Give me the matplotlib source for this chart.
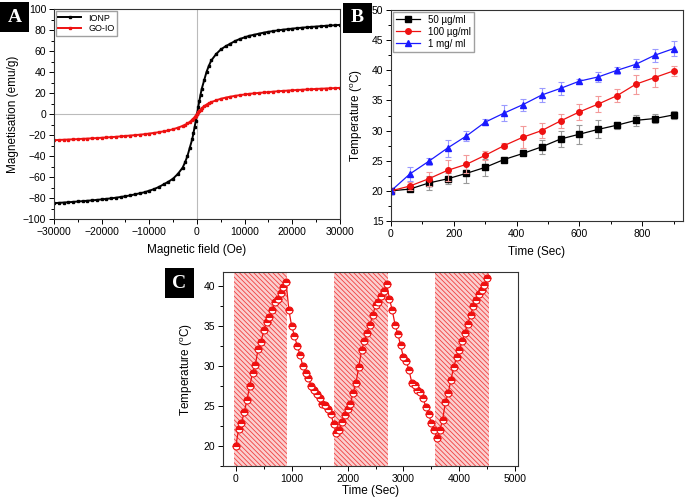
import numpy as np
import matplotlib

matplotlib.use("Agg")
import matplotlib.pyplot as plt
from matplotlib.patches import Rectangle
from matplotlib.ticker import MultipleLocator

plt.rcParams["font.family"] = ["Liberation Sans", "DejaVu Sans"]
plt.rcParams["mathtext.default"] = "regular"

# ---- panel A: magnetisation curves ----
field = [-30000, -29000, -28000, -27000, -26000, -25000, -24000, -23000, -22000, -21000,
         -20000, -19000, -18000, -17000, -16000, -15000, -14000, -13000, -12000, -11000,
         -10000, -9000, -8000, -7000, -6000, -5000, -4000, -3000, -2500, -2000, -1500,
         -1000, -750, -500, -250, 0, 250, 500, 750, 1000, 1500, 2000, 2500, 3000, 4000,
         5000, 6000, 7000, 8000, 9000, 10000, 11000, 12000, 13000, 14000, 15000, 16000,
         17000, 18000, 19000, 20000, 21000, 22000, 23000, 24000, 25000, 26000, 27000,
         28000, 29000, 30000]
ionp = [-84.9, -84.6, -84.3, -84.0, -83.7, -83.3, -83.0, -82.6, -82.2, -81.8,
        -81.3, -80.8, -80.3, -79.7, -79.0, -78.3, -77.5, -76.5, -75.5, -74.5,
        -73.0, -71.5, -69.5, -67.0, -64.5, -61.5, -57.0, -51.0, -46.0, -40.0, -32.0,
        -24.0, -18.5, -12.5, -6.5, 0.0, 6.5, 12.5, 18.5, 24.0, 32.0, 40.0, 46.0, 51.0, 57.0,
        61.5, 64.5, 67.0, 69.5, 71.5, 73.0, 74.5, 75.5, 76.5, 77.5, 78.3, 79.0,
        79.7, 80.3, 80.8, 81.3, 81.8, 82.2, 82.6, 83.0, 83.3, 83.7, 84.0,
        84.3, 84.6, 84.9]
goio = [-24.9, -24.7, -24.5, -24.3, -24.1, -23.9, -23.6, -23.4, -23.1, -22.9,
        -22.6, -22.3, -22.0, -21.7, -21.3, -20.9, -20.5, -20.1, -19.7, -19.2,
        -18.6, -18.0, -17.3, -16.5, -15.6, -14.5, -13.0, -11.3, -10.3, -9.0, -7.5,
        -5.5, -4.3, -3.0, -1.5, 0.0, 1.5, 3.0, 4.3, 5.5, 7.5, 9.0, 10.3, 11.3, 13.0,
        14.5, 15.6, 16.5, 17.3, 18.0, 18.6, 19.2, 19.7, 20.1, 20.5, 20.9, 21.3,
        21.7, 22.0, 22.3, 22.6, 22.9, 23.1, 23.4, 23.6, 23.9, 24.1, 24.3,
        24.5, 24.7, 24.9]

# ---- panel B: heating at three concentrations ----
time_b = [0, 60, 120, 180, 240, 300, 360, 420, 480, 540, 600, 660, 720, 780, 840, 900]
t_50 = [20.0, 20.3, 21.3, 22.0, 22.9, 23.9, 25.2, 26.2, 27.3, 28.6, 29.4, 30.2, 30.9, 31.7, 32.0, 32.6]
e_50 = [0.0, 0.3, 1.1, 0.9, 1.6, 1.4, 0.4, 0.3, 1.2, 1.3, 1.6, 1.5, 0.6, 0.9, 0.7, 0.7]
t_100 = [20.0, 20.8, 22.0, 23.4, 24.4, 25.9, 27.5, 28.9, 30.0, 31.6, 33.1, 34.4, 35.8, 37.7, 38.8, 39.9]
e_100 = [0.0, 0.6, 1.2, 1.8, 1.5, 0.7, 0.4, 1.8, 1.2, 1.2, 1.3, 1.3, 1.1, 1.6, 1.5, 0.8]
t_1mg = [20.0, 22.8, 24.9, 27.1, 29.1, 31.4, 32.9, 34.3, 35.9, 37.0, 38.2, 38.9, 40.0, 41.0, 42.5, 43.6]
e_1mg = [0.0, 1.2, 0.6, 1.4, 0.9, 0.5, 1.3, 1.0, 1.2, 1.1, 0.4, 0.9, 0.6, 0.8, 1.1, 1.3]

# ---- panel C: on/off cycling ----
time_c = np.arange(0, 4501, 50)
temp_c = [20.0, 22.1, 22.9, 24.2, 25.8, 27.5, 29.2, 30.2, 32.2, 33.0, 34.5, 35.5, 36.1, 37.0,
          38.0, 38.4, 39.2, 39.9, 40.5,
          37.0, 35.0, 33.8, 32.5, 31.4, 30.0, 29.1, 28.5, 27.5, 27.0, 26.5, 26.0, 25.2, 25.1,
          24.6, 24.0, 22.8, 21.6,
          22.0, 23.0, 23.9, 24.6, 25.3, 26.7, 27.9, 29.9, 32.0, 33.1, 34.2, 35.2, 36.4, 37.6,
          38.1, 38.8, 39.4, 40.3,
          38.4, 37.0, 35.2, 34.0, 32.6, 31.1, 30.6, 29.5, 27.9, 27.6, 27.0, 26.8, 26.0, 24.9,
          24.0, 22.9, 22.0, 21.0,
          22.0, 23.2, 25.5, 26.6, 28.3, 29.9, 31.1, 32.0, 33.1, 34.2, 35.3, 36.4, 37.5, 38.3,
          39.0, 39.6, 40.2, 41.0]
field_on = [(-40, 920), (1765, 2730), (3570, 4535)]

RED = "#ee1111"
BLUE = "#1a1aff"

fig = plt.figure(figsize=(6.85, 4.98), dpi=100)


def style(ax):
    ax.tick_params(which="both", direction="out", top=False, right=False,
                   labelsize=7.5, width=0.7, pad=2)
    ax.tick_params(which="major", length=3.5)
    ax.tick_params(which="minor", length=2)
    for s in ax.spines.values():
        s.set_linewidth(0.8)
        s.set_color("#333333")


# A
axA = fig.add_axes([0.0788, 0.5602, 0.4175, 0.4217])
axA.axhline(0, color="#bbbbbb", lw=0.8, zorder=0)
axA.axvline(0, color="#bbbbbb", lw=0.8, zorder=0)
axA.plot(field, ionp, "-s", color="black", lw=1.4, ms=2, label="IONP")
axA.plot(field, goio, "-s", color=RED, lw=1.4, ms=2, label="GO-IO")
axA.set_xlim(-30000, 30000)
axA.set_ylim(-100, 100)
axA.xaxis.set_major_locator(MultipleLocator(10000))
axA.xaxis.set_minor_locator(MultipleLocator(5000))
axA.yaxis.set_major_locator(MultipleLocator(20))
axA.yaxis.set_minor_locator(MultipleLocator(10))
axA.set_xlabel("Magnetic field (Oe)", fontsize=8.5, labelpad=5)
axA.set_ylabel("Magnetisation (emu/g)", fontsize=8.5, labelpad=3)
axA.legend(loc="upper left", fontsize=6.5, frameon=True, fancybox=False,
           edgecolor="#888888", handlelength=2.5, borderpad=0.3, labelspacing=0.2,
           borderaxespad=0.2)
style(axA)

# B
axB = fig.add_axes([0.5708, 0.5562, 0.4263, 0.4237])
for y, e, c, ec, m, lab in [(t_50, e_50, "black", "#999999", "s", "50 \u00b5g/ml"),
                            (t_100, e_100, RED, "#f39a9a", "o", "100 \u00b5g/ml"),
                            (t_1mg, e_1mg, BLUE, "#9a9aff", "^", "1 mg/ ml")]:
    axB.errorbar(time_b, y, yerr=e, fmt="none", ecolor=ec, elinewidth=0.8,
                 capsize=2, capthick=0.8)
    axB.plot(time_b, y, "-", marker=m, color=c, lw=0.9, ms=4, label=lab)
axB.set_xlim(0, 930)
axB.set_ylim(15, 50)
axB.xaxis.set_major_locator(MultipleLocator(200))
axB.xaxis.set_minor_locator(MultipleLocator(100))
axB.yaxis.set_major_locator(MultipleLocator(5))
axB.yaxis.set_minor_locator(MultipleLocator(2.5))
axB.set_xlabel("Time (Sec)", fontsize=8.5, labelpad=5)
axB.set_ylabel("Temperature ($^{o}$C)", fontsize=8.5, labelpad=5)
axB.legend(loc="upper left", fontsize=7, frameon=True, fancybox=False,
           edgecolor="#888888", handlelength=2.5, borderpad=0.3, labelspacing=0.2,
           borderaxespad=0.2)
style(axB)

# C
axC = fig.add_axes([0.3255, 0.0643, 0.4307, 0.3896])
plt.rcParams["hatch.linewidth"] = 0.6
for a, b in field_on:
    axC.axvspan(a, b, facecolor="#fbcfcf", edgecolor="#f04040",
                hatch="\\\\\\\\\\\\\\", lw=0, zorder=0)
axC.plot(time_c, temp_c, "-o", color=RED, lw=0.9, ms=5, fillstyle="top",
         markerfacecolor=RED, markerfacecoloralt="white", markeredgecolor=RED,
         markeredgewidth=0.8)
axC.set_xlim(-230, 5050)
axC.set_ylim(17.5, 41.8)
axC.xaxis.set_major_locator(MultipleLocator(1000))
axC.xaxis.set_minor_locator(MultipleLocator(500))
axC.yaxis.set_major_locator(MultipleLocator(5))
axC.yaxis.set_minor_locator(MultipleLocator(2.5))
axC.set_xlabel("Time (Sec)", fontsize=8.5, labelpad=1)
axC.set_ylabel("Temperature ($^{o}$C)", fontsize=8.5, labelpad=6)
style(axC)

# panel letters in black boxes
for letter, x0, y0 in [("A", 0, 2), ("B", 343, 3), ("C", 165, 268)]:
    w, h = 29, 30
    fig.add_artist(Rectangle((x0 / 685, 1 - (y0 + h) / 498), w / 685, h / 498,
                             transform=fig.transFigure, facecolor="black",
                             edgecolor="none", zorder=5))
    fig.text((x0 + w / 2) / 685, 1 - (y0 + h / 2) / 498, letter, color="white",
             family="Liberation Serif", weight="bold", fontsize=14,
             ha="center", va="center", zorder=6)

fig.savefig("out.png", dpi=100)
